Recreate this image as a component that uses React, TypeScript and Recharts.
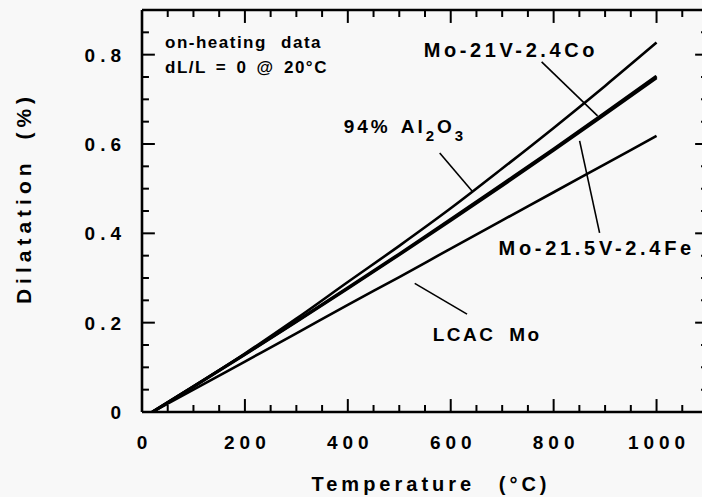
import React from 'react';
import { LineChart, Line, XAxis, YAxis, ReferenceLine, ReferenceDot } from 'recharts';

// ---- data ----
const temps = [20, 100, 200, 300, 400, 500, 600, 700, 800, 900, 1000];
const al2o3 = [0, 0.057, 0.131, 0.209, 0.291, 0.372, 0.456, 0.545, 0.636, 0.73, 0.827];
const moVCo = [0, 0.057, 0.1295, 0.203, 0.278, 0.354, 0.4315, 0.51, 0.589, 0.67, 0.752];
const moVFe = [0, 0.0568, 0.1287, 0.202, 0.2765, 0.352, 0.4285, 0.5065, 0.586, 0.6665, 0.748];
const lcacMo = [0, 0.05, 0.113, 0.176, 0.24, 0.302, 0.366, 0.429, 0.492, 0.555, 0.618];

const xTicks = [0, 50, 100, 150, 200, 250, 300, 350, 400, 450, 500, 550, 600, 650, 700, 750, 800, 850, 900, 950, 1000, 1050, 1100];
const yTicks = [0, 0.05, 0.1, 0.15, 0.2, 0.25, 0.3, 0.35, 0.4, 0.45, 0.5, 0.55, 0.6, 0.65, 0.7, 0.75, 0.8, 0.85, 0.9];
const xLabelTicks = [0, 200, 400, 600, 800, 1000];
const yLabelTicks = [0, 0.2, 0.4, 0.6, 0.8];

// leader lines [T1, v1, T2, v2]
const leaderCo = [776.7, 0.784, 885.4, 0.663];
const leaderAl = [578.6, 0.58, 642.7, 0.493];
const leaderFe = [889.3, 0.401, 850.5, 0.607];
const leaderLcac = [530, 0.288, 631.7, 0.219];

const data = temps.map((t, i) => ({
  T: t,
  al2o3: al2o3[i],
  moVCo: moVCo[i],
  moVFe: moVFe[i],
  lcacMo: lcacMo[i],
}));

const X_MIN = 0, X_MAX = 1100, Y_MIN = 0, Y_MAX = 0.9;
// inward tick lengths expressed in data units (≈13px major, ≈7px minor)
const TICK_X_MAJOR = 25, TICK_X_MINOR = 13.5;   // horizontal ticks (°C)
const TICK_Y_MAJOR = 0.029, TICK_Y_MINOR = 0.0157; // vertical ticks (%)

const FONT = '"Liberation Sans", Arial, Helvetica, sans-serif';

const isMajorX = (v: number) => Math.round(v) % 200 === 0;
const isMajorY = (v: number) => Math.round(v * 100) % 20 === 0;

const BottomTick = (props: any) => {
  const { x, y, payload } = props;
  const v = payload.value;
  if (!xLabelTicks.includes(v)) return <g />;
  return (
    <text x={x + 2.5} y={y + 37} textAnchor="middle" fontSize={19} fontWeight="bold" letterSpacing={5} fontFamily={FONT} fill="#000">
      {v}
    </text>
  );
};

const LeftTick = (props: any) => {
  const { x, y, payload } = props;
  const v = payload.value;
  if (!yLabelTicks.some((t) => Math.abs(t - v) < 1e-6)) return <g />;
  return (
    <text x={x - 16} y={y + 7} textAnchor="end" fontSize={19} fontWeight="bold" letterSpacing={5} fontFamily={FONT} fill="#000">
      {v === 0 ? '0' : v.toFixed(1)}
    </text>
  );
};

const textStyle = { fontFamily: FONT, fontWeight: 'bold' as const, fill: '#000' };

const makeText = (content: React.ReactNode, size: number, ls: number, ws = 0) => (p: any) => (
  <text x={p.cx} y={p.cy} fontSize={size} letterSpacing={ls} wordSpacing={ws} {...textStyle}>
    {content}
  </text>
);

const innerX = xTicks.filter((t) => t > X_MIN && t < X_MAX);
const innerY = yTicks.filter((t) => t > Y_MIN + 1e-6 && t < Y_MAX - 1e-6);

export default function App() {
  const tickSegs: { k: string; seg: [number, number, number, number] }[] = [];
  innerX.forEach((t) => {
    const len = isMajorX(t) ? TICK_Y_MAJOR : TICK_Y_MINOR;
    tickSegs.push({ k: 'b' + t, seg: [t, Y_MIN, t, Y_MIN + len] });
    tickSegs.push({ k: 't' + t, seg: [t, Y_MAX, t, Y_MAX - len] });
  });
  innerY.forEach((v) => {
    const len = isMajorY(v) ? TICK_X_MAJOR : TICK_X_MINOR;
    tickSegs.push({ k: 'l' + v, seg: [X_MIN, v, X_MIN + len, v] });
    tickSegs.push({ k: 'r' + v, seg: [X_MAX, v, X_MAX - len, v] });
  });

  return (
    <div style={{ position: 'fixed', left: 0, top: 0, width: 702, height: 497, background: '#f8f8f8', overflow: 'hidden' }}>
      <LineChart width={710} height={497} data={data} margin={{ top: 9, right: 1, bottom: 25, left: 42 }}>
        <XAxis
          xAxisId="b"
          dataKey="T"
          type="number"
          domain={[X_MIN, X_MAX]}
          ticks={xTicks}
          interval={0}
          allowDataOverflow
          height={60}
          tickSize={0.001}
          tickMargin={0}
          tickLine={false}
          axisLine={{ stroke: '#000', strokeWidth: 2.6 }}
          tick={<BottomTick />}
          label={() => (
            <text x={431} y={491} textAnchor="middle" fontSize={20} letterSpacing={4} wordSpacing={14} {...textStyle}>
              Temperature (°C)
            </text>
          )}
        />
        <XAxis
          xAxisId="t"
          orientation="top"
          dataKey="T"
          type="number"
          domain={[X_MIN, X_MAX]}
          allowDataOverflow
          height={1}
          tick={false}
          tickLine={false}
          axisLine={{ stroke: '#000', strokeWidth: 2.6 }}
        />
        <YAxis
          yAxisId="l"
          type="number"
          domain={[Y_MIN, Y_MAX]}
          ticks={yTicks}
          interval={0}
          allowDataOverflow
          width={100}
          tickSize={0.001}
          tickMargin={0}
          tickLine={false}
          axisLine={{ stroke: '#000', strokeWidth: 2.6 }}
          tick={<LeftTick />}
          label={() => (
            <text x={31} y={198} transform="rotate(-90 31 198)" textAnchor="middle" fontSize={21} letterSpacing={5} wordSpacing={8} {...textStyle}>
              Dilatation (%)
            </text>
          )}
        />
        <YAxis
          yAxisId="r"
          orientation="right"
          type="number"
          domain={[Y_MIN, Y_MAX]}
          allowDataOverflow
          width={1}
          tick={false}
          tickLine={false}
          axisLine={{ stroke: '#000', strokeWidth: 2.6 }}
        />

        {tickSegs.map(({ k, seg }) => (
          <ReferenceLine
            key={k}
            xAxisId="b"
            yAxisId="l"
            segment={[{ x: seg[0], y: seg[1] }, { x: seg[2], y: seg[3] }]}
            stroke="#000"
            strokeWidth={2}
          />
        ))}

        <Line xAxisId="b" yAxisId="l" type="monotone" dataKey="al2o3" stroke="#000" strokeWidth={2.6} dot={false} isAnimationActive={false} />
        <Line xAxisId="b" yAxisId="l" type="monotone" dataKey="moVCo" stroke="#000" strokeWidth={3} dot={false} isAnimationActive={false} />
        <Line xAxisId="b" yAxisId="l" type="monotone" dataKey="moVFe" stroke="#000" strokeWidth={3} dot={false} isAnimationActive={false} />
        <Line xAxisId="b" yAxisId="l" type="monotone" dataKey="lcacMo" stroke="#000" strokeWidth={2.6} dot={false} isAnimationActive={false} />

        {[leaderCo, leaderAl, leaderFe, leaderLcac].map((s, i) => (
          <ReferenceLine
            key={'ld' + i}
            xAxisId="b"
            yAxisId="l"
            segment={[{ x: s[0], y: s[1] }, { x: s[2], y: s[3] }]}
            stroke="#000"
            strokeWidth={1.6}
          />
        ))}

        <ReferenceDot xAxisId="b" yAxisId="l" x={44.7} y={0.815} r={0} shape={makeText('on-heating data', 17, 1.5, 8)} />
        <ReferenceDot xAxisId="b" yAxisId="l" x={44.7} y={0.759} r={0} shape={makeText('dL/L = 0 @ 20°C', 17, 1.5, 3)} />
        <ReferenceDot xAxisId="b" yAxisId="l" x={547.6} y={0.795} r={0} shape={makeText('Mo-21V-2.4Co', 20, 3.6)} />
        <ReferenceDot xAxisId="b" yAxisId="l" x={693} y={0.352} r={0} shape={makeText('Mo-21.5V-2.4Fe', 20, 3.7)} />
        <ReferenceDot xAxisId="b" yAxisId="l" x={565} y={0.159} r={0} shape={makeText('LCAC Mo', 19, 2.5, 6)} />
        <ReferenceDot
          xAxisId="b"
          yAxisId="l"
          x={392}
          y={0.625}
          r={0}
          shape={makeText(
            <>
              <tspan>94%</tspan>
              <tspan dx={10}>Al</tspan>
              <tspan dy={8} fontSize={15}>2</tspan>
              <tspan dy={-8}>O</tspan>
              <tspan dy={8} fontSize={15}>3</tspan>
            </>,
            19,
            3
          )}
        />
      </LineChart>
    </div>
  );
}
